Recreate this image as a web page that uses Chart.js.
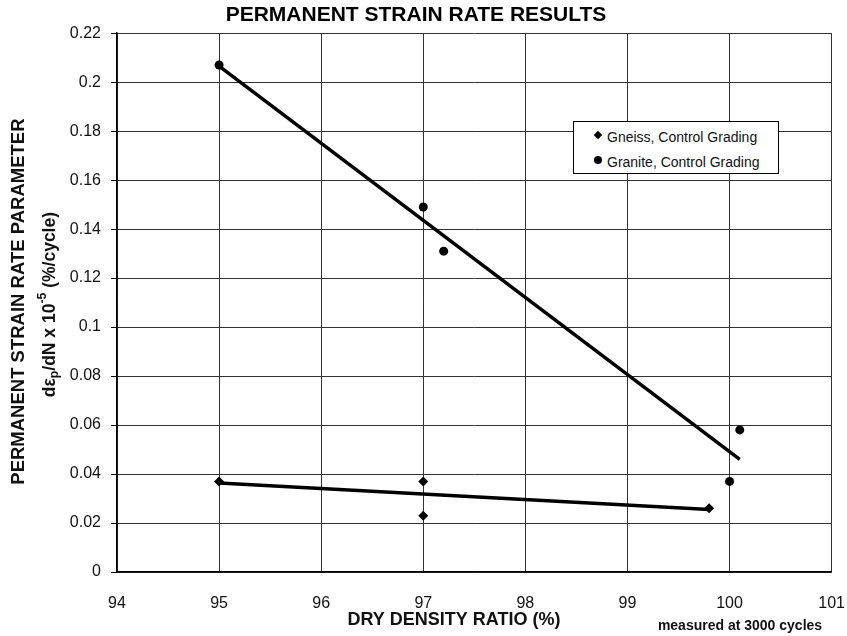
<!DOCTYPE html>
<html>
<head>
<meta charset="utf-8">
<title>Permanent strain rate results</title>
<script src="https://cdn.jsdelivr.net/npm/chart.js@4.4.1/dist/chart.umd.min.js"></script>
<style>
  html, body { margin: 0; padding: 0; background: #fff; }
  #wrap { position: relative; width: 847px; height: 636px; overflow: hidden; }
  #chart { position: absolute; left: 0; top: 0; }
  .legend {
    position: absolute; left: 573px; top: 121px; width: 204px; height: 51px;
    border: 1px solid #000; background: #fff;
    font: 14px 'Liberation Sans', Arial, sans-serif; color: #111;
  }
  .legend .txt { position: absolute; left: 33px; height: 20px; line-height: 20px; white-space: nowrap; }
  .legend .mk { position: absolute; background: #000; }
  .legend .diamond { left: 21px; top: 10px; width: 6px; height: 6px; transform: rotate(45deg); }
  .legend .circle { left: 20px; top: 34px; width: 8px; height: 8px; border-radius: 50%; }
</style>
</head>
<body>
<div id="wrap">
  <canvas id="chart" width="847" height="636"></canvas>
  <div class="legend">
    <div class="mk diamond"></div>
    <div class="txt" style="top:5px">Gneiss, Control Grading</div>
    <div class="mk circle"></div>
    <div class="txt" style="top:30px">Granite, Control Grading</div>
  </div>
</div>
<script>
'use strict';

// ─── DATA ────────────────────────────────────────────────────

const X_TICKS = [94, 95, 96, 97, 98, 99, 100, 101];
const Y_TICKS = [0, 0.02, 0.04, 0.06, 0.08, 0.1, 0.12, 0.14, 0.16, 0.18, 0.2, 0.22];

const gneissDensity = [95, 97, 97, 99.8];
const gneissRate    = [0.037, 0.037, 0.023, 0.026];

const graniteDensity = [95, 97, 97.2, 100, 100.1];
const graniteRate    = [0.207, 0.149, 0.131, 0.037, 0.058];

// trend lines as drawn in the figure (end points)
const gneissFitDensity  = [95, 99.8];
const gneissFitRate     = [0.0363, 0.0255];
const graniteFitDensity = [95, 100.1];
const graniteFitRate    = [0.2065, 0.046];

const TITLE   = 'PERMANENT STRAIN RATE RESULTS';
const X_TITLE = 'DRY DENSITY RATIO (%)';
const Y_TITLE = 'PERMANENT STRAIN RATE PARAMETER';
const NOTE    = 'measured at 3000 cycles';

const FONT = "'Liberation Sans', Arial, sans-serif";
const INK  = '#111';

const toPoints = (xs, ys) => xs.map((x, i) => ({ x, y: ys[i] }));

// ─── AXIS TEXT (sub/superscripts need manual drawing) ────────

const axisText = {
  id: 'axisText',
  afterDraw(chart) {
    const ctx = chart.ctx;
    const area = chart.chartArea;
    ctx.save();
    ctx.fillStyle = INK;
    ctx.textBaseline = 'middle';
    ctx.textAlign = 'center';

    ctx.font = `bold 18px ${FONT}`;
    ctx.fillText(X_TITLE, area.left + 337, 620);

    ctx.font = `bold 14px ${FONT}`;
    ctx.fillText(NOTE, 740, 626);

    // y title, line 1
    const midY = (area.top + area.bottom) / 2;
    ctx.save();
    ctx.translate(19, midY - 1);
    ctx.rotate(-Math.PI / 2);
    ctx.font = `bold 18.5px ${FONT}`;
    ctx.fillText(Y_TITLE, 0, 0);
    ctx.restore();

    // y title, line 2: dεp/dN x 10^-5 (%/cycle)
    const base = 17.5;
    const parts = [
      { t: 'd\u03B5', s: 1, dy: 0 },
      { t: 'p', s: 0.7, dy: 5 },
      { t: '/dN x 10', s: 1, dy: 0 },
      { t: '-5', s: 0.7, dy: -7 },
      { t: ' (%/cycle)', s: 1, dy: 0 },
    ];
    ctx.save();
    ctx.translate(50, midY + 2);
    ctx.rotate(-Math.PI / 2);
    ctx.textAlign = 'left';
    let total = 0;
    parts.forEach(p => {
      ctx.font = `bold ${base * p.s}px ${FONT}`;
      p.w = ctx.measureText(p.t).width;
      total += p.w;
    });
    let x = -total / 2;
    parts.forEach(p => {
      ctx.font = `bold ${base * p.s}px ${FONT}`;
      ctx.fillText(p.t, x, p.dy);
      x += p.w;
    });
    ctx.restore();

    ctx.restore();
  }
};

// ─── CHART ───────────────────────────────────────────────────

new Chart(document.getElementById('chart'), {
  type: 'scatter',
  data: {
    datasets: [
      {
        label: 'Gneiss, Control Grading',
        data: toPoints(gneissDensity, gneissRate),
        pointStyle: 'rectRot',
        pointRadius: 5,
        backgroundColor: '#000',
        borderColor: '#000',
        borderWidth: 0,
        order: 0
      },
      {
        label: 'Granite, Control Grading',
        data: toPoints(graniteDensity, graniteRate),
        pointStyle: 'circle',
        pointRadius: 4.5,
        backgroundColor: '#000',
        borderColor: '#000',
        borderWidth: 0,
        order: 0
      },
      {
        label: 'Gneiss trend',
        data: toPoints(gneissFitDensity, gneissFitRate),
        showLine: true,
        pointRadius: 0,
        borderColor: '#000',
        borderWidth: 3.5,
        order: 1
      },
      {
        label: 'Granite trend',
        data: toPoints(graniteFitDensity, graniteFitRate),
        showLine: true,
        pointRadius: 0,
        borderColor: '#000',
        borderWidth: 3.5,
        order: 1
      }
    ]
  },
  options: {
    responsive: false,
    animation: false,
    devicePixelRatio: 1,
    layout: { padding: { left: 0, right: 15, top: 0, bottom: 0 } },
    plugins: {
      legend: { display: false },
      tooltip: { enabled: false },
      title: {
        display: true,
        text: TITLE,
        color: '#000',
        font: { family: FONT, size: 21, weight: 'bold', lineHeight: 1.15 },
        padding: { top: 3, bottom: 6 }
      }
    },
    scales: {
      x: {
        type: 'linear',
        min: 94,
        max: 101,
        afterFit: s => { s.height = 64; },
        afterBuildTicks: s => { s.ticks = X_TICKS.map(v => ({ value: v })); },
        // invisible tick marks push the labels down without widening the side padding
        grid: { color: '#333', lineWidth: 1, drawTicks: true, tickLength: 20, tickColor: 'rgba(0,0,0,0)' },
        border: { color: '#000', width: 1.5 },
        ticks: {
          color: INK,
          padding: 2,
          maxRotation: 0,
          font: { family: FONT, size: 16 },
          callback: v => String(v)
        }
      },
      y: {
        type: 'linear',
        min: 0,
        max: 0.22,
        afterFit: s => { s.width = 117; },
        afterBuildTicks: s => { s.ticks = Y_TICKS.map(v => ({ value: v })); },
        grid: { color: '#333', lineWidth: 1, tickLength: 6, tickColor: '#000' },
        border: { color: '#000', width: 1.5 },
        ticks: {
          color: INK,
          padding: 10,
          font: { family: FONT, size: 16 },
          callback: v => String(+Number(v).toFixed(2))
        }
      }
    }
  },
  plugins: [axisText]
});
</script>
</body>
</html>
